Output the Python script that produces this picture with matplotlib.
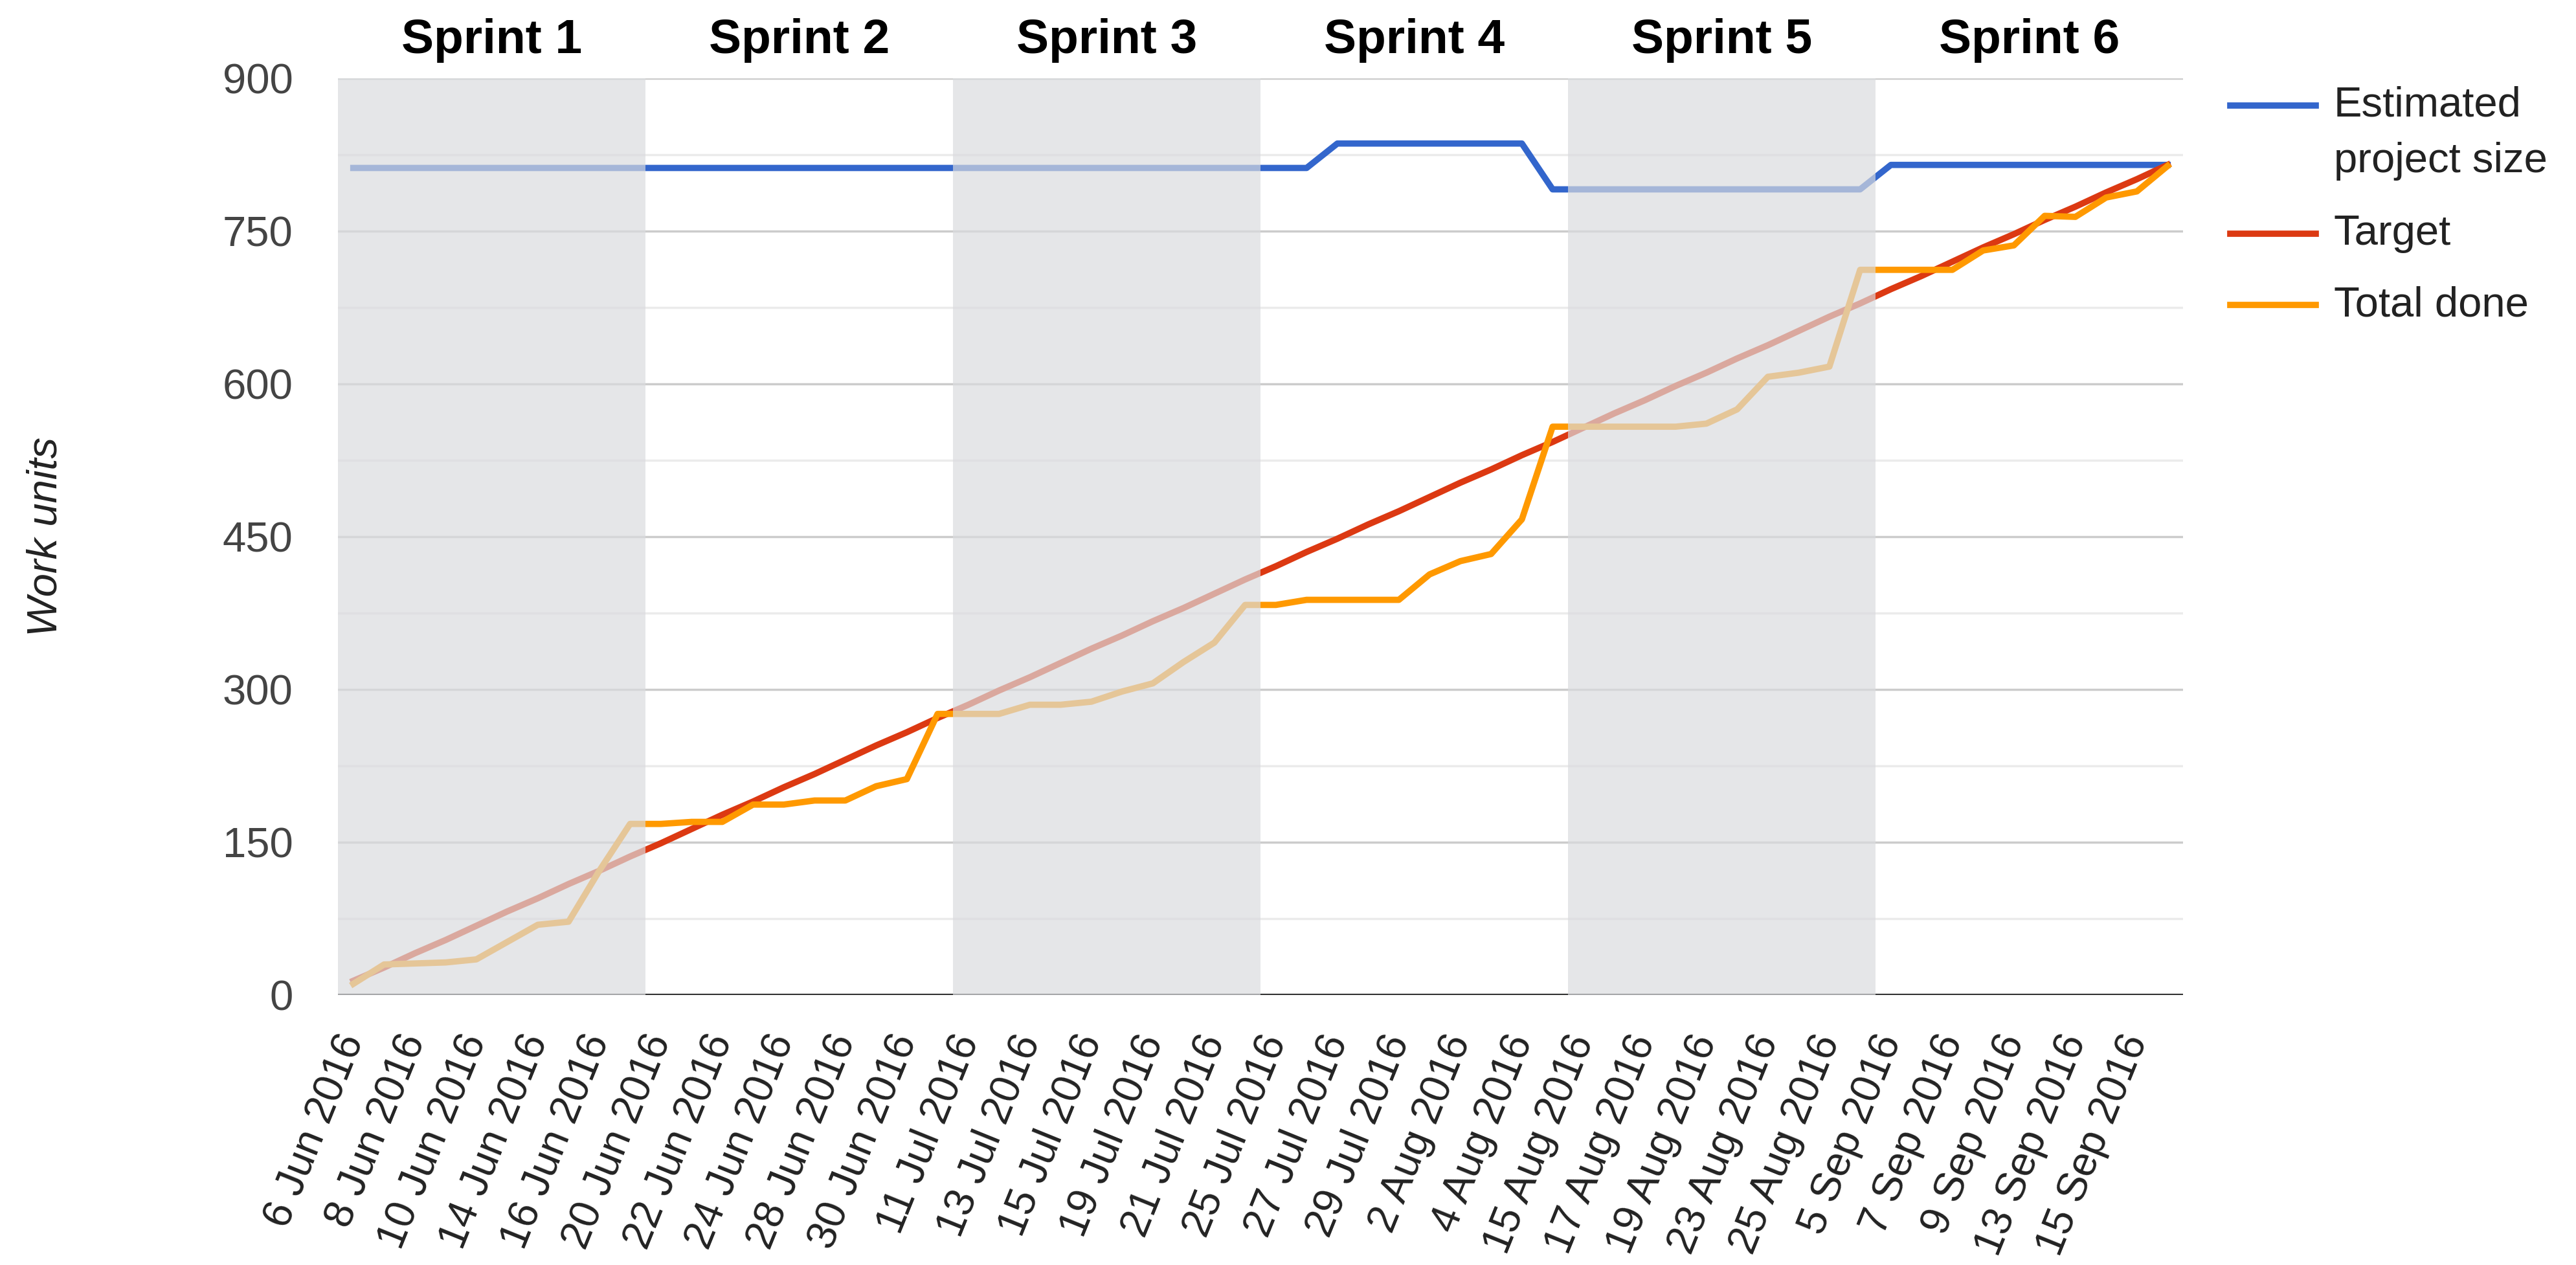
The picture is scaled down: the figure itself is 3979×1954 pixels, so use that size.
import matplotlib.pyplot as plt
from matplotlib.lines import Line2D

plt.rcParams["font.family"] = ["Liberation Sans", "DejaVu Sans"]

days = [
    "6 Jun 2016", "7 Jun 2016", "8 Jun 2016", "9 Jun 2016", "10 Jun 2016",
    "13 Jun 2016", "14 Jun 2016", "15 Jun 2016", "16 Jun 2016", "17 Jun 2016",
    "20 Jun 2016", "21 Jun 2016", "22 Jun 2016", "23 Jun 2016", "24 Jun 2016",
    "27 Jun 2016", "28 Jun 2016", "29 Jun 2016", "30 Jun 2016", "1 Jul 2016",
    "11 Jul 2016", "12 Jul 2016", "13 Jul 2016", "14 Jul 2016", "15 Jul 2016",
    "18 Jul 2016", "19 Jul 2016", "20 Jul 2016", "21 Jul 2016", "22 Jul 2016",
    "25 Jul 2016", "26 Jul 2016", "27 Jul 2016", "28 Jul 2016", "29 Jul 2016",
    "1 Aug 2016", "2 Aug 2016", "3 Aug 2016", "4 Aug 2016", "5 Aug 2016",
    "15 Aug 2016", "16 Aug 2016", "17 Aug 2016", "18 Aug 2016", "19 Aug 2016",
    "22 Aug 2016", "23 Aug 2016", "24 Aug 2016", "25 Aug 2016", "26 Aug 2016",
    "5 Sep 2016", "6 Sep 2016", "7 Sep 2016", "8 Sep 2016", "9 Sep 2016",
    "12 Sep 2016", "13 Sep 2016", "14 Sep 2016", "15 Sep 2016", "16 Sep 2016",
]
sprints = ["Sprint 1", "Sprint 2", "Sprint 3", "Sprint 4", "Sprint 5", "Sprint 6"]
sprint_len = 10
shaded = [0, 2, 4]  # sprints drawn greyed out

estimated = [
    812, 812, 812, 812, 812, 812, 812, 812, 812, 812,
    812, 812, 812, 812, 812, 812, 812, 812, 812, 812,
    812, 812, 812, 812, 812, 812, 812, 812, 812, 812,
    812, 812, 836, 836, 836, 836, 836, 836, 836, 791,
    791, 791, 791, 791, 791, 791, 791, 791, 791, 791,
    815, 815, 815, 815, 815, 815, 815, 815, 815, 815,
]
target = [
    14, 27, 41, 54, 68, 82, 95, 109, 122, 136,
    149, 163, 177, 190, 204, 217, 231, 245, 258, 272,
    285, 299, 312, 326, 340, 353, 367, 380, 394, 408,
    421, 435, 448, 462, 475, 489, 503, 516, 530, 543,
    557, 571, 584, 598, 611, 625, 638, 652, 666, 679,
    693, 706, 720, 734, 747, 761, 774, 788, 801, 815,
]
done = [
    11, 30, 31, 32, 35, 52, 69, 72, 122, 168,
    168, 170, 170, 187, 187, 191, 191, 205, 212, 276,
    276, 276, 285, 285, 288, 298, 306, 327, 346, 383,
    383, 388, 388, 388, 388, 413, 426, 433, 467, 558,
    558, 558, 558, 558, 561, 575, 607, 611, 617, 712,
    712, 712, 712, 731, 736, 765, 764, 783, 789, 814,
]

series = [
    ("Estimated\nproject size", estimated, "#3366cc"),
    ("Target", target, "#dc3912"),
    ("Total done", done, "#ff9900"),
]

W, H = 3979, 1954
fig = plt.figure(figsize=(W / 100, H / 100), dpi=100)
ax = fig.add_axes([522 / W, 1 - 1537 / H, (3372 - 522) / W, (1537 - 121) / H])

x = list(range(len(days)))
for name, vals, col in series:
    ax.plot(x, vals, color=col, lw=7, zorder=3, solid_joinstyle="round")

# grid: darker every 150, lighter in between
ax.set_ylim(0, 900)
ax.set_xlim(-0.5, len(days) - 0.5)
ax.set_yticks(range(0, 901, 150))
for v in range(150, 901, 150):
    ax.axhline(v, color="#cccccc", lw=2.5, zorder=1)
for v in range(75, 900, 150):
    ax.axhline(v, color="#ebebeb", lw=2.5, zorder=1)
ax.axhline(0, color="#333333", lw=3, zorder=2)

# washed-out sprints
for k in shaded:
    ax.axvspan(k * sprint_len - 0.5, (k + 1) * sprint_len - 0.5,
               color=(218 / 255, 219 / 255, 222 / 255), alpha=0.69, lw=0, zorder=5)

for k, s in enumerate(sprints):
    ax.text(k * sprint_len + (sprint_len - 1) / 2, 1.0275, s, transform=ax.get_xaxis_transform(),
            ha="center", va="baseline", fontsize=54, fontweight="bold", color="black")

for sp in ax.spines.values():
    sp.set_visible(False)

ax.set_xticks(x[::2])
ax.set_xticklabels(days[::2], rotation=68, ha="right", rotation_mode="anchor", va="center")
ax.tick_params(axis="x", length=0, pad=46, labelsize=46, labelcolor="#222222")
ax.tick_params(axis="y", length=0, pad=50, labelsize=47, labelcolor="#444444")

ax.set_ylabel("Work units", fontsize=47, fontstyle="italic", color="#222222")
ax.yaxis.set_label_coords((100 - 522) / (3372 - 522), 0.5)

# legend drawn by hand so the swatch sits on the first text line
legend_y = [163, 361, 471]
for (name, vals, col), ly in zip(series, legend_y):
    fig.add_artist(Line2D([3445 / W, 3577 / W], [1 - ly / H, 1 - ly / H], color=col, lw=7))
    for j, line in enumerate(name.split("\n")):
        fig.text(3605 / W, 1 - (ly + j * 86) / H, line, ha="left", va="center",
                 fontsize=47, color="#222222")

fig.savefig("out.png", dpi=100, facecolor="white")
